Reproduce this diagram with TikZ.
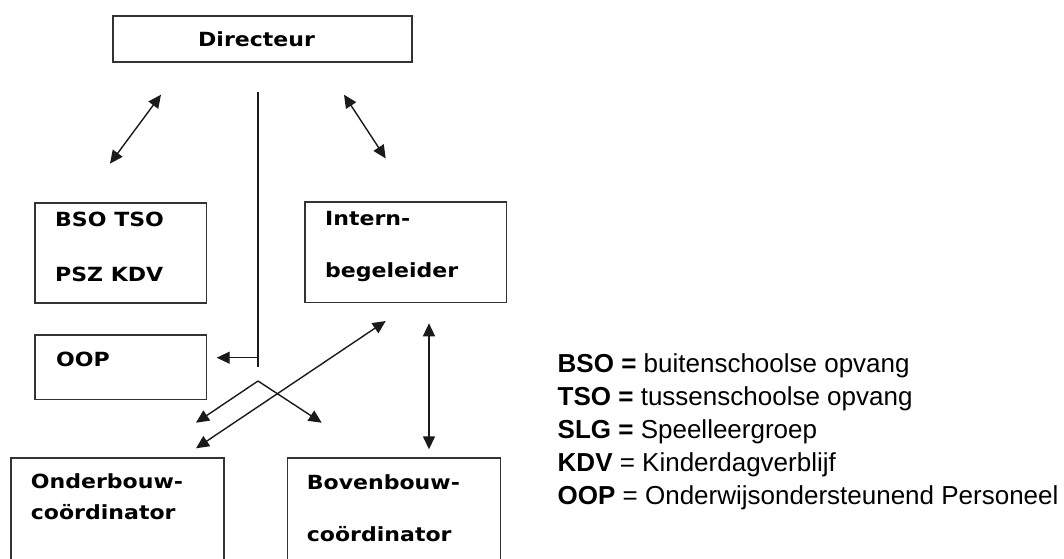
\documentclass[tikz,border=0pt]{standalone}
\usepackage{fontspec}
\setmainfont{Liberation Sans}
\newfontfamily\boxfont[FakeStretch=1.13]{DejaVu Sans}
\usetikzlibrary{arrows.meta}
\definecolor{edge}{HTML}{333333}
\definecolor{ink}{HTML}{1A1A1A}
\begin{document}
\begin{tikzpicture}[x=1pt,y=-1pt,
  orgbox/.style={draw=edge, line width=1.6pt, anchor=north west, inner sep=0pt},
  boxtext/.style={anchor=base west, inner sep=0pt, text=black,
    font=\boxfont\bfseries\fontsize{19.5}{22}\selectfont},
  legtext/.style={anchor=base west, inner sep=0pt, text=black,
    font=\fontsize{26}{33}\selectfont},
  link/.style={draw=ink, line width=1.4pt},
  dbl/.style={link, {Triangle[length=13pt,width=12pt]}-{Triangle[length=13pt,width=12pt]}},
  sgl/.style={link, -{Triangle[length=13pt,width=12pt]}}]
\useasboundingbox (0,0) rectangle (1064,558);
\clip (0,0) rectangle (1064,558);
\fill[white] (0,0) rectangle (1064,558);

% boxes
\node[orgbox, minimum width=299pt, minimum height=46pt] (dir) at (112,15) {};
\node[orgbox, minimum width=171.5pt, minimum height=100pt] (bso) at (34,202) {};
\node[orgbox, minimum width=201.5pt, minimum height=100.5pt] (ib) at (304,201) {};
\node[orgbox, minimum width=171.5pt, minimum height=64.5pt] (oop) at (34,334) {};
\node[orgbox, minimum width=213pt, minimum height=140pt] (ob) at (10,457) {};
\node[orgbox, minimum width=213pt, minimum height=140pt] (bb) at (286.5,457) {};

% box texts
\node[boxtext] (dirt) at (198,46.7) {Directeur};
\node[boxtext] (bsot1) at (55,226.7) {BSO TSO};
\node[boxtext] (bsot2) at (55,281.7) {PSZ KDV};
\node[boxtext] (ibt1) at (325,225) {Intern-};
\node[boxtext] (ibt2) at (325,277.5) {begeleider};
\node[boxtext] (oopt) at (56,366.7) {OOP};
\node[boxtext] (obt1) at (30.7,488.3) {Onderbouw-};
\node[boxtext] (obt2) at (30.7,519.3) {coördinator};
\node[boxtext] (bbt1) at (306.7,489.3) {Bovenbouw-};
\node[boxtext] (bbt2) at (306.7,541.7) {coördinator};

% connector end points
\coordinate (a1s) at (161,94.7);
\coordinate (a1e) at (110,163.6);
\coordinate (a2s) at (344,94.7);
\coordinate (a2e) at (385.7,158.4);
\coordinate (vtop) at (258,92.3);
\coordinate (vbot) at (258,366.7);
\coordinate (hjoin) at (258,357.7);
\coordinate (htip) at (216.7,357.7);
\coordinate (apex) at (258,381);
\coordinate (vl) at (196,422.7);
\coordinate (vr) at (321.7,422.7);
\coordinate (lgs) at (385.7,321);
\coordinate (lge) at (196,448.3);
\coordinate (vds) at (429,323.3);
\coordinate (vde) at (429,449.3);

% connectors
\draw[dbl] (a1s) -- (a1e);
\draw[dbl] (a2s) -- (a2e);
\draw[link] (vtop) -- (vbot);
\draw[sgl] (hjoin) -- (htip);
\draw[sgl] (apex) -- (vl);
\draw[sgl] (apex) -- (vr);
\draw[dbl] (lgs) -- (lge);
\draw[dbl] (vds) -- (vde);

% legend
\node[legtext] (l1) at (557.5,372) {\textbf{BSO =} buitenschoolse opvang};
\node[legtext] (l2) at (557.5,405) {\textbf{TSO =} tussenschoolse opvang};
\node[legtext] (l3) at (557.5,438) {\textbf{SLG =} Speelleergroep};
\node[legtext] (l4) at (557.5,471) {\textbf{KDV} = Kinderdagverblijf};
\node[legtext] (l5) at (557.5,504) {\textbf{OOP} = Onderwijsondersteunend Personeel};
\end{tikzpicture}
\end{document}
